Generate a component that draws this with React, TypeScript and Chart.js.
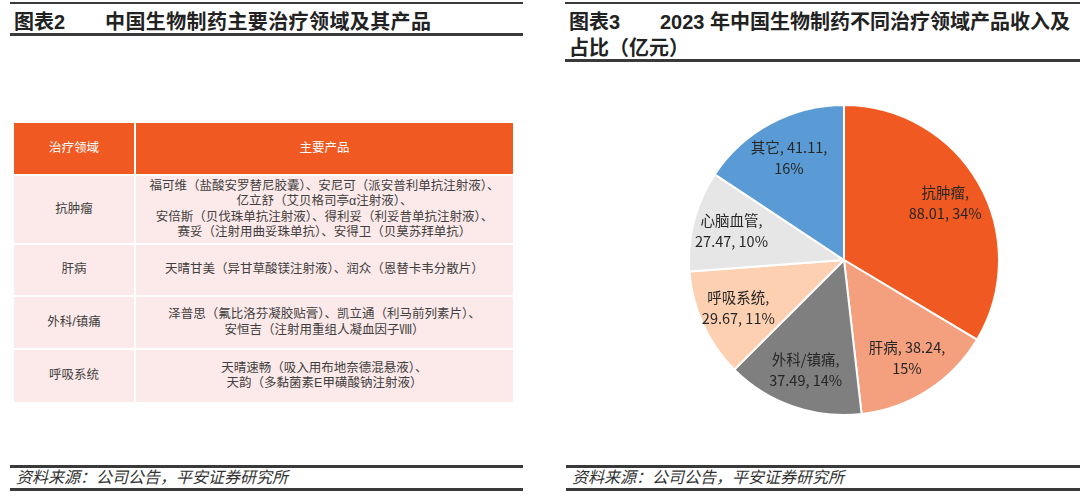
import { useEffect, useRef } from "react";
import { Chart, registerables } from "chart.js";

Chart.register(...registerables);

// 图表3 data
const categories = ["抗肿瘤", "肝病", "外科/镇痛", "呼吸系统", "心脑血管", "其它"];
const revenues = [88.01, 38.24, 37.49, 29.67, 27.47, 41.11];
const sliceColors = ["#F05A22", "#F4A07F", "#7F7F7F", "#FDD0B2", "#E7E6E6", "#5B9BD5"];

// 图表2 table
const tableHeader = ["治疗领域", "主要产品"];
const tableAreas = ["抗肿瘤", "肝病", "外科/镇痛", "呼吸系统"];
const tableProducts = [
  [
    "福可维（盐酸安罗替尼胶囊）、安尼可（派安普利单抗注射液）、",
    "亿立舒（艾贝格司亭α注射液）、",
    "安倍斯（贝伐珠单抗注射液）、得利妥（利妥昔单抗注射液）、",
    "赛妥（注射用曲妥珠单抗）、安得卫（贝莫苏拜单抗）",
  ],
  ["天晴甘美（异甘草酸镁注射液）、润众（恩替卡韦分散片）"],
  ["泽普思（氟比洛芬凝胶贴膏）、凯立通（利马前列素片）、", "安恒吉（注射用重组人凝血因子Ⅷ）"],
  ["天晴速畅（吸入用布地奈德混悬液）、", "天韵（多黏菌素E甲磺酸钠注射液）"],
];
const rowHeights = [51, 67, 50, 51, 52];

const SOURCE = "资料来源：公司公告，平安证券研究所";
const FONT = '"Noto Sans CJK SC", "Noto Sans", sans-serif';
const MIXED = '"Liberation Sans", "Noto Sans CJK SC", sans-serif';

const sliceLabels = {
  id: "sliceLabels",
  afterDatasetsDraw(chart: any) {
    const { ctx } = chart;
    const meta = chart.getDatasetMeta(0);
    const total = revenues.reduce((a, b) => a + b, 0);
    ctx.save();
    ctx.font = `14.5px ${FONT}`;
    ctx.fillStyle = "#262626";
    ctx.textAlign = "center";
    ctx.textBaseline = "middle";
    meta.data.forEach((arc: any, i: number) => {
      const p = arc.getProps(["x", "y", "startAngle", "endAngle", "outerRadius"], true);
      const mid = (p.startAngle + p.endAngle) / 2;
      const r = p.outerRadius * 0.75;
      const cx = p.x + Math.cos(mid) * r;
      const cy = p.y + Math.sin(mid) * r;
      const pct = Math.round((revenues[i] / total) * 100);
      const tokens = [`${categories[i]},`, `${revenues[i].toFixed(2)},`, `${pct}%`];
      const lines: string[] = [];
      let cur = "";
      tokens.forEach((t) => {
        const trial = cur ? cur + " " + t : t;
        if (cur && ctx.measureText(trial).width > 88) {
          lines.push(cur);
          cur = t;
        } else cur = trial;
      });
      lines.push(cur);
      const lh = 21;
      lines.forEach((l, k) => ctx.fillText(l, cx, cy + (k - (lines.length - 1) / 2) * lh));
    });
    ctx.restore();
  },
};

function PieChart() {
  const canvasRef = useRef<any>(null);

  useEffect(() => {
    if (!canvasRef.current) return;
    const chart = new Chart(canvasRef.current.getContext("2d"), {
      type: "pie",
      data: {
        labels: categories,
        datasets: [
          {
            data: revenues,
            backgroundColor: sliceColors,
            borderColor: "#FFFFFF",
            borderWidth: 2,
          },
        ],
      },
      options: {
        animation: false,
        responsive: true,
        maintainAspectRatio: false,
        layout: { padding: 0 },
        plugins: {
          legend: { display: false },
          tooltip: { enabled: false },
        },
      },
      plugins: [sliceLabels],
    } as any);
    return () => chart.destroy();
  }, []);

  return <canvas ref={canvasRef} />;
}

const rule = (left: number, top: number, width: number, h: number) => (
  <div style={{ position: "absolute", left, top, width, height: h, background: "#3A3A3A" }} />
);

function Title({
  left,
  width,
  lines,
  num,
  spacing,
}: {
  left: number;
  width: number;
  lines: string[];
  num: string;
  spacing: number;
}) {
  return (
    <>
      {rule(left, 2, width, 2)}
      {lines.map((l, k) => (
        <div
          key={l}
          style={{
            position: "absolute",
            left: left + 4,
            top: 9 + k * 26,
            height: 26,
            fontFamily: MIXED,
            fontWeight: 700,
            fontSize: 20,
            lineHeight: "26px",
            letterSpacing: spacing,
            color: "#222",
            whiteSpace: "nowrap",
          }}
        >
          {k === 0 && <span style={{ display: "inline-block", width: 91, letterSpacing: 0 }}>{num}</span>}
          {l}
        </div>
      ))}
      {rule(left, lines.length > 1 ? 59 : 33, width, 3)}
    </>
  );
}

function Source({ left, width }: { left: number; width: number }) {
  return (
    <>
      {rule(left, 465, width, 3)}
      <div
        style={{
          position: "absolute",
          left: left + 6,
          top: 467,
          fontFamily: MIXED,
          fontStyle: "italic",
          fontSize: 16,
          lineHeight: "22px",
          color: "#333",
        }}
      >
        {SOURCE}
      </div>
      {rule(left, 488, width, 3)}
    </>
  );
}

function ProductTable() {
  const cell = (bg: string, color: string, h: number, content: any, key: string) => (
    <div
      key={key}
      style={{
        background: bg,
        color,
        height: h,
        display: "flex",
        flexDirection: "column",
        alignItems: "center",
        justifyContent: "center",
        textAlign: "center",
        fontSize: 12.5,
        lineHeight: "15.5px",
        whiteSpace: "nowrap",
      }}
    >
      {content}
    </div>
  );
  return (
    <div
      style={{
        position: "absolute",
        left: 14,
        top: 123,
        width: 499,
        display: "grid",
        gridTemplateColumns: "120px 377px",
        columnGap: 2,
        rowGap: 2,
        fontFamily: MIXED,
      }}
    >
      {tableHeader.map((h, i) => cell("#F05A22", "#FFFFFF", rowHeights[0], h, "h" + i))}
      {tableAreas.map((a, r) => [
        cell("#FCE9E9", "#404040", rowHeights[r + 1], a, "a" + r),
        cell(
          "#FCE9E9",
          "#404040",
          rowHeights[r + 1],
          tableProducts[r].map((l) => (
            <div key={l} style={{ height: 15.5 }}>
              {l}
            </div>
          )),
          "p" + r
        ),
      ])}
    </div>
  );
}

export default function App() {
  return (
    <div
      style={{
        position: "fixed",
        left: 0,
        top: 0,
        width: 1080,
        height: 501,
        background: "#FFFFFF",
        overflow: "hidden",
      }}
    >
      <Title left={10} width={513} num="图表2" spacing={0.4} lines={["中国生物制药主要治疗领域及其产品"]} />
      <Title
        left={565}
        width={515}
        num="图表3"
        spacing={0}
        lines={["2023 年中国生物制药不同治疗领域产品收入及", "占比（亿元）"]}
      />
      <ProductTable />
      <div style={{ position: "absolute", left: 688, top: 104, width: 312, height: 312 }}>
        <PieChart />
      </div>
      <Source left={10} width={513} />
      <Source left={566} width={514} />
    </div>
  );
}
